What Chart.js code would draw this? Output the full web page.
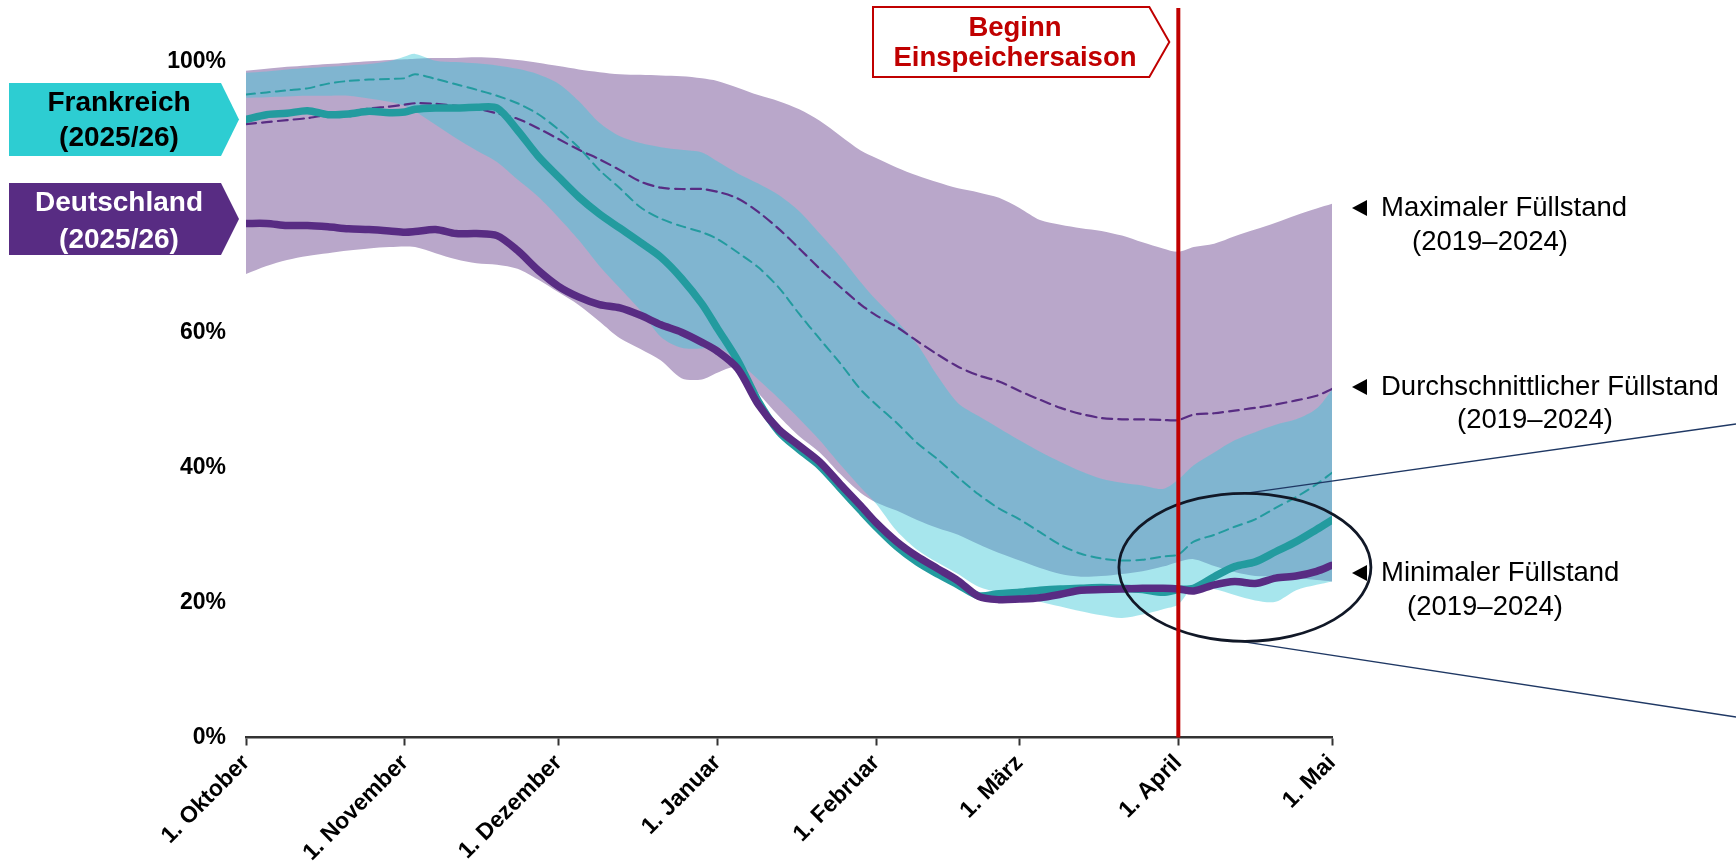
<!DOCTYPE html>
<html lang="de">
<head>
<meta charset="utf-8">
<title>Gasspeicher-Füllstände Frankreich und Deutschland</title>
<script src="https://cdn.jsdelivr.net/npm/chart.js@4.4.1/dist/chart.umd.min.js"></script>
<style>
  html, body { margin: 0; padding: 0; background: #fff; }
  #wrap { width: 1736px; height: 868px; position: relative; }
</style>
</head>
<body>
<div id="wrap"><canvas id="c" width="1736" height="868"></canvas></div>
<script>
// Tage seit 1. Oktober (Speicherjahr 2025/26)
const DAYS = [0,4,8,12,16,20,24,28,31,33,37,41,45,49,53,57,61,65,69,73,77,81,85,89,92,96,100,104,108,112,116,120,123,127,131,135,139,143,147,151,155,159,163,167,171,175,179,182,185,189,193,197,201,205,209,212];

// Deutschland: Maximum / Minimum / Durchschnitt 2019–2024 (in %)
const DE_MAX = [98.7,99.0,99.3,99.5,99.7,99.9,100.1,100.3,100.4,100.5,100.6,100.6,100.7,100.6,100.3,99.9,99.4,98.9,98.5,98.2,98.1,98.0,97.9,97.6,97.2,96.2,95.1,94.2,93.0,91.3,89.1,86.9,85.8,84.4,83.2,82.2,81.3,80.7,79.9,78.4,76.6,75.9,75.4,75.0,74.3,73.3,72.4,71.9,72.6,73.1,74.2,75.2,76.2,77.3,78.3,79.0];
const DE_MIN = [68.6,69.8,70.7,71.3,71.7,72.1,72.4,72.6,72.7,72.6,71.7,70.8,70.2,70.0,69.4,67.8,65.9,64.0,61.6,59.1,57.5,55.8,53.2,53.0,54.0,54.8,51.0,47.6,44.6,42.2,39.0,36.2,34.8,33.6,32.2,31.0,30.0,28.6,27.3,26.2,25.1,24.2,23.8,23.9,24.2,24.6,25.3,26.0,26.4,25.4,24.5,23.9,23.8,23.6,23.3,23.1];
const DE_AVG = [90.8,91.1,91.4,91.7,92.2,92.6,93.1,93.4,93.7,93.9,93.8,93.5,93.1,92.4,91.6,90.2,88.6,87.0,85.6,84.0,82.3,81.4,81.2,81.2,80.8,79.8,77.8,75.3,72.4,69.4,66.7,64.1,62.5,60.8,58.7,56.7,54.9,53.6,52.7,51.3,50.0,48.8,47.9,47.3,47.1,47.1,47.0,47.0,47.8,48.0,48.4,48.8,49.3,49.9,50.6,51.6];

// Frankreich: Maximum / Minimum / Durchschnitt 2019–2024 (in %)
const FR_MAX = [98.4,98.6,98.9,99.1,99.3,99.5,99.7,100.1,100.8,101.2,100.2,100.0,99.8,99.5,99.0,98.2,96.8,94.2,91.0,89.0,88.0,87.4,87.0,86.6,85.3,83.5,82.0,80.3,77.9,74.6,71.2,67.4,64.8,61.7,58.2,53.5,49.5,47.6,45.8,44.0,42.3,40.8,39.4,38.3,37.7,37.3,36.8,38.2,40.3,42.2,44.0,45.2,46.3,47.1,48.7,51.5];
const FR_MIN = [94.7,94.8,94.9,95.0,95.0,95.0,94.6,94.1,93.5,92.7,90.7,88.7,86.9,85.2,82.6,80.1,77.0,73.6,69.8,66.5,63.2,59.3,57.7,57.6,57.9,55.7,53.0,50.2,47.2,44.0,40.4,37.0,34.6,30.6,27.8,25.9,24.2,22.3,21.5,21.1,20.1,19.4,18.7,18.1,17.7,18.2,19.0,19.7,22.3,22.0,21.1,20.3,20.1,21.8,22.6,23.1];
const FR_AVG = [95.2,95.5,95.8,96.1,96.8,97.2,97.4,97.5,97.6,98.2,97.5,96.7,95.9,95.0,93.9,92.3,90.0,87.3,84.0,81.3,78.5,76.8,75.7,74.8,73.8,71.8,69.6,66.6,62.7,59.0,55.4,51.5,49.3,46.6,43.6,41.2,38.5,36.0,33.9,32.3,30.4,28.5,27.2,26.5,26.2,26.3,26.8,27.1,29.0,30.0,31.2,32.3,34.0,35.6,37.5,39.2];

// Aktuelles Speicherjahr 2025/26 (in %)
const FR_CUR = [91.5,92.2,92.4,92.8,92.2,92.3,92.7,92.5,92.6,93.0,93.2,93.2,93.3,93.2,89.9,86.1,83.0,80.0,77.5,75.4,73.3,71.1,68.0,64.2,60.6,55.8,49.8,45.3,42.6,40.2,36.9,33.6,31.2,28.3,26.0,24.2,22.6,21.0,21.3,21.5,21.8,22.0,22.1,22.2,22.1,21.9,21.5,21.9,22.1,23.8,25.3,26.0,27.5,29.0,30.8,32.2];
const DE_CUR = [76.1,76.1,75.8,75.8,75.6,75.3,75.2,75.0,74.8,74.9,75.2,74.6,74.6,74.3,72.1,69.2,66.8,65.2,64.1,63.6,62.5,61.1,60.0,58.5,57.2,54.6,49.3,45.6,43.2,40.8,37.5,34.3,31.8,29.0,26.8,25.0,23.2,20.9,20.4,20.5,20.7,21.2,21.8,21.9,22.0,22.1,22.1,22.0,21.7,22.6,23.1,22.8,23.6,23.9,24.6,25.5];

// Achsenbeschriftungen
const MONTH_DAYS = [0, 31, 61, 92, 123, 151, 182, 212];
const MONTH_LABELS = ['1. Oktober', '1. November', '1. Dezember', '1. Januar', '1. Februar', '1. März', '1. April', '1. Mai'];
const Y_TICKS = [0, 20, 40, 60, 100];
const SEASON_START_DAY = 182;   // 1. April
const FOCUS_DAY = 195;          // Mitte der hervorgehobenen Ellipse
const FOCUS_VALUE = 25.2;

const FONT = "'Liberation Sans', Arial, Helvetica, sans-serif";
const C_DE = '#582C83';
const C_FR_LINE = '#239B9F';
const C_FR_BOX = '#2DCDD2';
const C_DE_BAND = '#B9A7CA';
const C_FR_BAND = 'rgba(60,200,215,0.45)';
const C_RED = '#C00000';

const pts = vals => DAYS.map((d, i) => ({ x: d, y: vals[i] }));

function arrowBox(ctx, x, y, w, h, tip) {
  ctx.beginPath();
  ctx.moveTo(x, y);
  ctx.lineTo(x + w, y);
  ctx.lineTo(x + w + tip, y + h / 2);
  ctx.lineTo(x + w, y + h);
  ctx.lineTo(x, y + h);
  ctx.closePath();
}

function leftTriangle(ctx, tipX, cy) {
  ctx.beginPath();
  ctx.moveTo(tipX, cy);
  ctx.lineTo(tipX + 15, cy - 8);
  ctx.lineTo(tipX + 15, cy + 8);
  ctx.closePath();
  ctx.fillStyle = '#000';
  ctx.fill();
}

const decor = {
  id: 'decor',
  afterDatasetsDraw(chart) {
    const { ctx, scales: { x, y }, chartArea } = chart;
    ctx.save();
    // Hervorhebung: Ellipse + Verbindungslinien
    const cx = x.getPixelForValue(FOCUS_DAY);
    const cy = y.getPixelForValue(FOCUS_VALUE);
    const rx = 126, ry = 74;
    ctx.strokeStyle = '#1F3864';
    ctx.lineWidth = 1.3;
    ctx.beginPath();
    ctx.moveTo(cx, cy - ry);
    ctx.lineTo(chart.width, 424);
    ctx.moveTo(cx - 4, cy + ry);
    ctx.lineTo(chart.width, 717);
    ctx.stroke();
    ctx.strokeStyle = '#111827';
    ctx.lineWidth = 2.8;
    ctx.beginPath();
    ctx.ellipse(cx, cy, rx, ry, 0, 0, Math.PI * 2);
    ctx.stroke();

    // Beginn der Einspeichersaison
    const xs = x.getPixelForValue(SEASON_START_DAY);
    ctx.strokeStyle = C_RED;
    ctx.lineWidth = 4;
    ctx.beginPath();
    ctx.moveTo(xs, 8);
    ctx.lineTo(xs, chartArea.bottom);
    ctx.stroke();
    ctx.restore();
  },
  afterDraw(chart) {
    const { ctx, scales: { x } } = chart;
    ctx.save();
    const xs = x.getPixelForValue(SEASON_START_DAY);

    // Kasten "Beginn Einspeichersaison"
    const tipX = xs - 9;
    arrowBox(ctx, 873, 7, tipX - 20 - 873, 70, 20);
    ctx.fillStyle = '#fff';
    ctx.fill();
    ctx.strokeStyle = C_RED;
    ctx.lineWidth = 2;
    ctx.stroke();
    ctx.fillStyle = C_RED;
    ctx.font = 'bold 27.5px ' + FONT;
    ctx.textAlign = 'center';
    ctx.textBaseline = 'middle';
    ctx.fillText('Beginn', 1015, 28);
    ctx.fillText('Einspeichersaison', 1015, 58);

    // Länderkennzeichnung links
    arrowBox(ctx, 9, 83, 212, 73, 18);
    ctx.fillStyle = C_FR_BOX;
    ctx.fill();
    arrowBox(ctx, 9, 183, 212, 72, 18);
    ctx.fillStyle = C_DE;
    ctx.fill();
    ctx.font = 'bold 28px ' + FONT;
    ctx.fillStyle = '#000';
    ctx.fillText('Frankreich', 119, 103);
    ctx.fillText('(2025/26)', 119, 138);
    ctx.fillStyle = '#fff';
    ctx.fillText('Deutschland', 119, 203);
    ctx.fillText('(2025/26)', 119, 240);

    // Erläuterungen rechts
    ctx.fillStyle = '#000';
    ctx.font = '27.5px ' + FONT;
    ctx.textAlign = 'left';
    const notes = [
      ['Maximaler Füllstand', 208, 1412, 242],
      ['Durchschnittlicher Füllstand', 387, 1457, 420],
      ['Minimaler Füllstand', 573, 1407, 607]
    ];
    notes.forEach(([t, y1, x2, y2]) => {
      leftTriangle(ctx, 1352, y1);
      ctx.fillStyle = '#000';
      ctx.fillText(t, 1381, y1);
      ctx.fillText('(2019–2024)', x2, y2);
    });
    ctx.restore();
  }
};

const line = (vals, color, width, order, dash) => ({
  data: pts(vals), borderColor: color, borderWidth: width, borderDash: dash || [],
  pointRadius: 0, fill: false, tension: 0.3, order, borderCapStyle: 'round', borderJoinStyle: 'round'
});
const band = (vals, color, order, fill) => ({
  data: pts(vals), borderWidth: 0, borderColor: 'rgba(0,0,0,0)', backgroundColor: color,
  pointRadius: 0, fill, tension: 0.3, order
});

new Chart(document.getElementById('c'), {
  type: 'line',
  data: {
    datasets: [
      line(DE_CUR, C_DE, 7.5, 0),
      line(FR_CUR, C_FR_LINE, 7.5, 1),
      line(DE_AVG, C_DE, 2.2, 2, [10, 6]),
      line(FR_AVG, C_FR_LINE, 2.0, 3, [9, 6]),
      band(FR_MAX, C_FR_BAND, 4, '+1'),
      band(FR_MIN, 'rgba(0,0,0,0)', 4, false),
      band(DE_MAX, C_DE_BAND, 5, '+1'),
      band(DE_MIN, 'rgba(0,0,0,0)', 5, false)
    ]
  },
  options: {
    responsive: false,
    animation: false,
    devicePixelRatio: 1,
    layout: { padding: { left: 150, right: 404, top: 35, bottom: 0 } },
    plugins: { legend: { display: false }, tooltip: { enabled: false } },
    scales: {
      x: {
        type: 'linear', min: 0, max: 212,
        afterBuildTicks: s => { s.ticks = MONTH_DAYS.map(v => ({ value: v })); },
        afterFit: s => { s.height = 130.5; },
        grid: { drawOnChartArea: false, drawTicks: true, tickLength: 8, tickWidth: 2, tickColor: '#333' },
        border: { display: true, color: '#333', width: 2.5 },
        ticks: {
          autoSkip: false, minRotation: 45, maxRotation: 45, padding: 4, color: '#000',
          font: { family: FONT, size: 23, weight: 'bold' },
          callback: v => MONTH_LABELS[MONTH_DAYS.indexOf(v)]
        }
      },
      y: {
        min: 0, max: 104,
        afterBuildTicks: s => { s.ticks = Y_TICKS.map(v => ({ value: v })); },
        afterFit: s => { s.width = 96; },
        grid: { display: false },
        border: { display: false },
        ticks: {
          padding: 12, color: '#000',
          font: { family: FONT, size: 23, weight: 'bold' },
          callback: v => v + '%'
        }
      }
    }
  },
  plugins: [decor]
});
</script>
</body>
</html>
